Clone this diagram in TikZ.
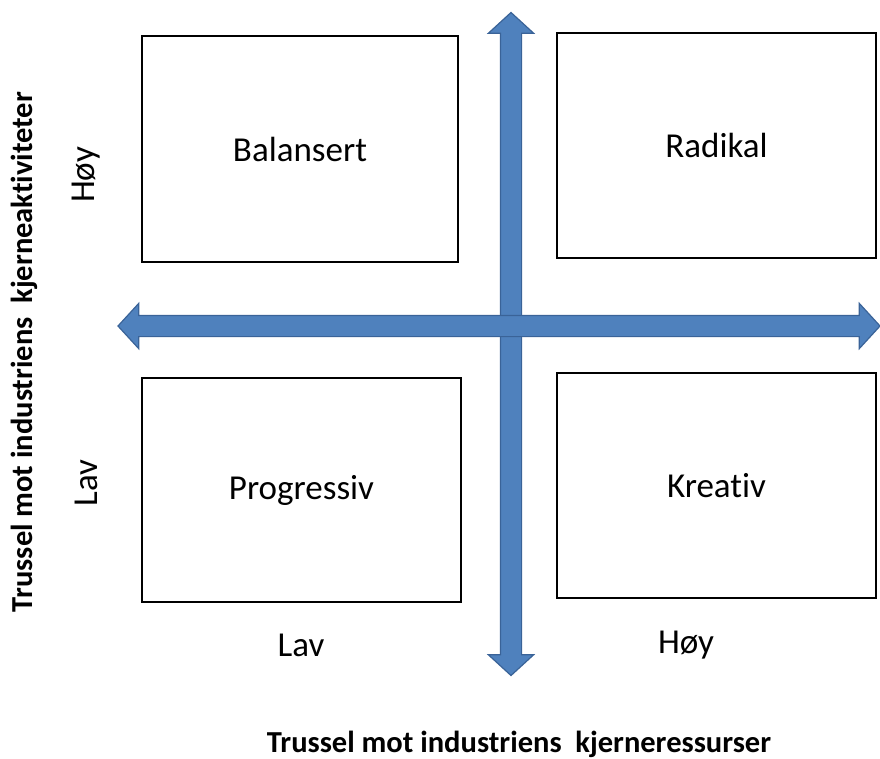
\documentclass[tikz,border=0pt]{standalone}
\usepackage{fontspec}
\setmainfont{Carlito}[Ligatures={NoCommon}]
\usetikzlibrary{shapes.arrows}
\definecolor{axisfill}{HTML}{4F81BD}
\definecolor{axisline}{HTML}{3A6398}
\begin{document}
\begin{tikzpicture}[x=1pt,y=-1pt,
  quadrant/.style={draw=black, line width=1.3pt, fill=white, inner sep=0pt},
  qlabel/.style={font=\fontsize{35}{40}\selectfont},
  tick/.style={font=\fontsize{35}{40}\selectfont},
  axistitle/.style={font=\bfseries\fontsize{30.5}{34}\selectfont},
  axisarrow/.style={double arrow, draw=axisline, line width=1.2pt, fill=axisfill,
    inner xsep=0pt, inner ysep=10pt, minimum width=44pt, double arrow head extend=12pt,
    double arrow tip angle=95}]
  \useasboundingbox (0,0) rectangle (880,758);

  % quadrant boxes
  \node[quadrant, minimum width=316pt, minimum height=226pt] (bal) at (300,149) {};
  \node[quadrant, minimum width=319pt, minimum height=225pt] (rad) at (716.5,145.5) {};
  \node[quadrant, minimum width=319pt, minimum height=224pt] (pro) at (301.5,490) {};
  \node[quadrant, minimum width=319pt, minimum height=225pt] (kre) at (716.5,485.5) {};

  \node[qlabel] at (bal) {Balansert};
  \node[qlabel] at (rad) {Radikal};
  \node[qlabel] at (pro) {Progressiv};
  \node[qlabel] at (kre) {Kreativ};

  % axes: the horizontal one lies over the vertical one
  \node[axisarrow, minimum height=663pt, rotate=90] (vaxis) at (511,344) {};
  \node[axisarrow, minimum height=762pt] (haxis) at (499,326) {};

  % scale marks
  \node[tick, rotate=90] (yhi) at (86,175) {Høy};
  \node[tick, rotate=90] (ylo) at (86,483) {Lav};
  \node[tick] (xlo) at (301,645) {Lav};
  \node[tick] (xhi) at (686,645) {Høy};

  % axis titles
  \node[axistitle, rotate=90] (ytitle) at (24,352) {Trussel mot industriens\ \ kjerneaktiviteter};
  \node[axistitle] (xtitle) at (519,744) {Trussel mot industriens\ \ kjerneressurser};
\end{tikzpicture}
\end{document}
